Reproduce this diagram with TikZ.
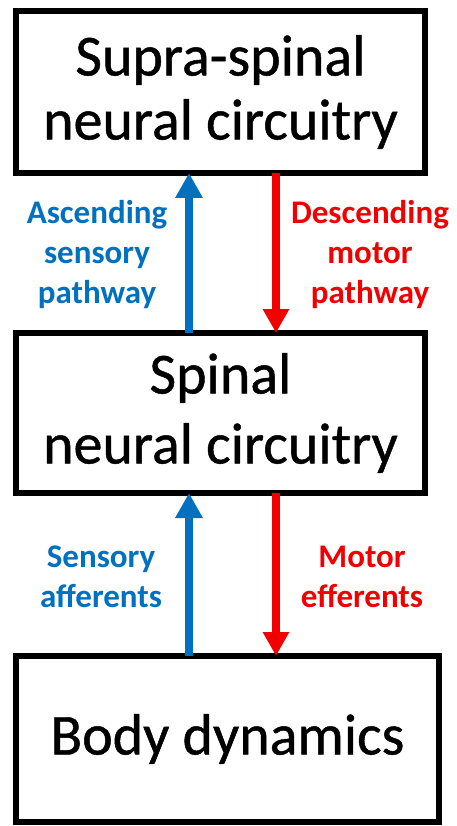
\documentclass[tikz,border=0pt]{standalone}
\usepackage{fontspec}
\setmainfont{Carlito}
\newfontfamily\cajafont{Carlito}[FakeBold=0.8]
\usepackage{xcolor}
\usepackage{tikz}
\usetikzlibrary{arrows.meta,positioning}
\definecolor{azul}{HTML}{0070C0}
\definecolor{rojo}{HTML}{F00000}
\tikzset{
  caja/.style={draw=black,line width=5.5pt,inner sep=0pt,outer sep=0pt,align=center,font=\cajafont\fontsize{58}{64}\selectfont},
  sube/.style={azul,line width=7.5pt,-{Triangle[width=26pt,length=25pt]}},
  baja/.style={rojo,line width=7.5pt,-{Triangle[width=25pt,length=24pt]}},
  etiq/.style={inner sep=0pt,align=center,font=\bfseries\fontsize{33}{40}\selectfont}
}

\begin{document}
\begin{tikzpicture}[x=1pt,y=-1pt]
\useasboundingbox (0,0) rectangle (457,826);
% cajas
\node[caja,minimum width=409pt,minimum height=162pt] (supra) at (220.5,92) {Supra-spinal\\neural circuitry};
\node[caja,minimum width=409pt,minimum height=160pt] (espinal) at (220.5,413) {Spinal\\[6pt]neural circuitry};
\node[caja,minimum width=423pt,minimum height=166pt] (cuerpo) at (227.5,739) {Body dynamics};
% columnas de las flechas
\coordinate (ca) at (189,0);
\coordinate (cd) at (276,0);
\draw[sube] (ca |- espinal.north) -- (ca |- supra.south);
\draw[baja] (cd |- supra.south) -- (cd |- espinal.north);
\draw[sube] (ca |- cuerpo.north) -- (ca |- espinal.south);
\draw[baja] (cd |- espinal.south) -- (cd |- cuerpo.north);
% etiquetas
\node[etiq,azul] (asc) at (97,255) {Ascending\\sensory\\pathway};
\node[etiq,rojo] (desc) at (370,255) {Descending\\motor\\pathway};
\node[etiq,azul] (aff) at (101,577) {Sensory\\afferents};
\node[etiq,rojo] (eff) at (362,577) {Motor\\efferents};
\end{tikzpicture}
\end{document}
